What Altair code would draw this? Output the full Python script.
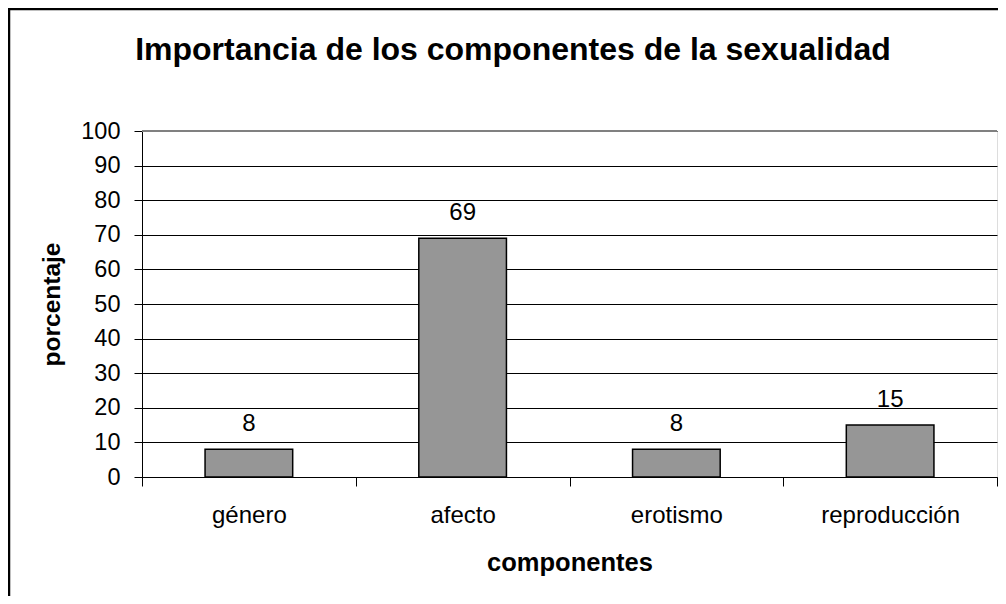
import altair as alt
import pandas as pd

categories = ["género", "afecto", "erotismo", "reproducción"]
values = [8, 69, 8, 15]
y_ticks = [0, 10, 20, 30, 40, 50, 60, 70, 80, 90, 100]

title_text = "Importancia de los componentes de la sexualidad"
x_title = "componentes"
y_title = "porcentaje"

FONT = "Liberation Sans, Arial, sans-serif"

df = pd.DataFrame({"componente": categories, "porcentaje": values})

W, H = 855, 346

x_enc = alt.X(
    "componente:N",
    sort=categories,
    scale=alt.Scale(paddingInner=0, paddingOuter=0),
    axis=alt.Axis(
        title=x_title,
        titleFont=FONT,
        titleFontSize=25.5,
        titleFontWeight="bold",
        titleColor="black",
        titleBaseline="alphabetic",
        titleY=93,
        labelFont=FONT,
        labelFontSize=24,
        labelColor="black",
        labelAngle=0,
        labelBaseline="alphabetic",
        labelPadding=36,
        tickBand="extent",
        tickSize=9,
        tickColor="black",
        domainColor="black",
        domainWidth=1,
        grid=False,
    ),
)

y_enc = alt.Y(
    "porcentaje:Q",
    scale=alt.Scale(domain=[0, 100], nice=False),
    axis=alt.Axis(
        title=y_title,
        values=y_ticks,
        tickCount=11,
        labelOverlap=False,
        titleFont=FONT,
        titleFontSize=24.5,
        titleFontWeight="bold",
        titleColor="black",
        titleBaseline="middle",
        titleX=-90,
        titleY=H / 2,
        labelFont=FONT,
        labelFontSize=23.5,
        labelColor="black",
        labelPadding=14,
        tickSize=8,
        tickColor="black",
        domainColor="black",
        domainWidth=1,
        grid=True,
        gridColor="black",
        gridWidth=1,
    ),
)

base = alt.Chart(df).encode(x=x_enc, y=y_enc)

bars = base.mark_bar(
    color="#969696", stroke="black", strokeWidth=1.5, width=alt.RelativeBandSize(0.41)
)

labels = base.mark_text(
    font=FONT, fontSize=24, color="black", baseline="alphabetic", dy=-18.5
).encode(text="porcentaje:Q")

one = pd.DataFrame({"t": [title_text]})

title = alt.Chart(one).mark_text(
    font=FONT, fontSize=32, fontWeight="bold", color="black", baseline="alphabetic", align="center"
).encode(x=alt.value(371), y=alt.value(-71), text="t:N")

border_left = alt.Chart(one).mark_rule(color="black", strokeWidth=2.5).encode(
    x=alt.value(-133), y=alt.value(-123), y2=alt.value(700)
)
border_top = alt.Chart(one).mark_rule(color="black", strokeWidth=2.5).encode(
    x=alt.value(-134), x2=alt.value(900), y=alt.value(-122)
)
top_edge = alt.Chart(one).mark_rule(color="#808080", strokeWidth=2).encode(
    x=alt.value(0), x2=alt.value(W), y=alt.value(0)
)

chart = alt.layer(bars, labels, title, top_edge, border_left, border_top).properties(
    width=W,
    height=H,
    autosize=alt.AutoSizeParams(type="none"),
    padding={"left": 134, "top": 123, "right": 1, "bottom": 119},
).configure_view(
    stroke="#808080", strokeWidth=2
).configure(
    background="white"
)

chart.save("out.html", embed_options={"renderer": "svg", "actions": False})
